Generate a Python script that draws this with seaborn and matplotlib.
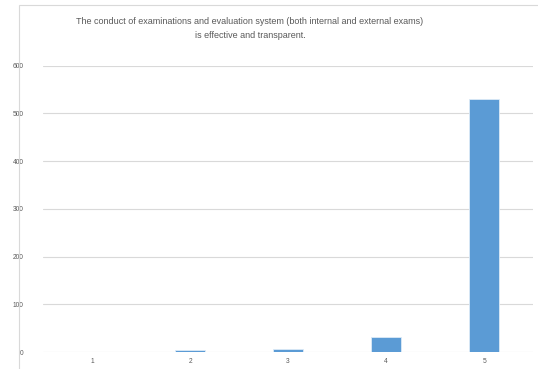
import pandas as pd
import seaborn as sns
import matplotlib.pyplot as plt
from matplotlib.patches import Rectangle

## Data
ratings = ["1", "2", "3", "4", "5"]
responses = [0, 4, 7, 31, 530]
title = ("The conduct of examinations and evaluation system (both internal and external exams)\n"
         "is effective and transparent.")

df = pd.DataFrame({"rating": ratings, "responses": responses})

sns.set_style("white")
plt.rcParams['font.family'] = ['Liberation Sans', 'DejaVu Sans']

fig = plt.figure(figsize=(5.38, 3.69), dpi=100)
ax = fig.add_axes([0.080, 0.046, 0.911, 0.776])

sns.barplot(data=df, x="rating", y="responses", color="#5B9BD5", saturation=1,
            width=0.31, edgecolor="#DDEBF7", linewidth=0.6, ax=ax)

ax.set_xlim(-0.5, 4.5)
ax.set_ylim(0, 600)
ax.set_yticks(range(0, 601, 100))
ax.yaxis.grid(True, color="#D9D9D9", linewidth=0.8)
ax.set_axisbelow(True)
for s in ax.spines.values():
    s.set_visible(False)
ax.tick_params(axis="both", length=0, labelsize=4.8, labelcolor="#595959")
ax.tick_params(axis="y", pad=14)
ax.tick_params(axis="x", pad=4)
ax.set_xlabel("")
ax.set_ylabel("")

## chart frame
fig.patches.append(Rectangle((19 / 538, -0.1), 1.2, 1.1 - 5 / 369, transform=fig.transFigure,
                             fill=False, edgecolor="#D9D9D9", linewidth=0.8))

fig.text(250 / 538, 1 - 28.5 / 369, title, ha="center", va="center", fontsize=6.5,
         color="#595959", linespacing=1.85)

fig.savefig("out.png", dpi=100)
